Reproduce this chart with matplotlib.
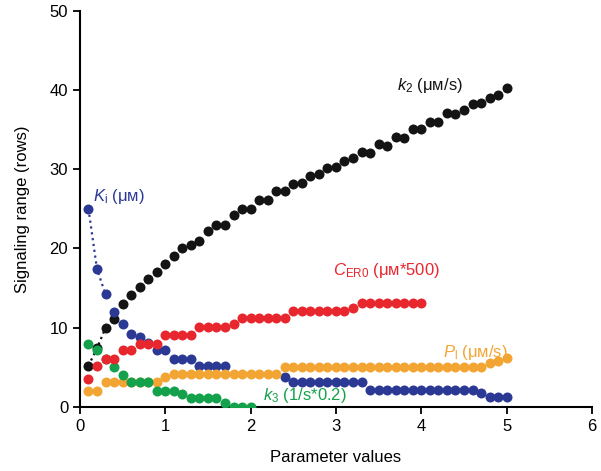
import numpy as np
import matplotlib
matplotlib.use('Agg')
import matplotlib.pyplot as plt

plt.rcParams['font.family'] = ['Liberation Sans', 'DejaVu Sans']
plt.rcParams['mathtext.fontset'] = 'custom'
plt.rcParams['mathtext.rm'] = 'Liberation Sans'
plt.rcParams['mathtext.it'] = 'Liberation Sans:italic'

# parameter values (x) shared by all series
x = np.round(np.arange(1, 51) * 0.1, 1)

k2 = [5.2, 7.4, 10.0, 11.1, 13.0, 14.1, 15.1, 16.2, 17.0, 18.1,
      19.0, 20.1, 20.5, 21.0, 22.2, 23.0, 23.0, 24.2, 25.0, 25.0,
      26.1, 26.1, 27.3, 27.3, 28.1, 28.3, 29.2, 29.4, 30.1, 30.3,
      31.1, 31.4, 32.2, 32.0, 33.2, 33.0, 34.1, 34.0, 35.1, 35.1,
      36.0, 36.0, 37.1, 37.0, 37.5, 38.3, 38.4, 39.0, 39.4, 40.2]

nan = np.nan
Ki = [25.0, 17.4, 14.2, 12.0, 10.5, 9.2, 8.8, 8.1, 7.2, 7.2,
      6.0, 6.0, 6.0, 5.2, 5.2, 5.2, 5.2, nan, nan, nan,
      nan, nan, nan, 3.8, 3.2, 3.2, 3.2, 3.2, 3.2, 3.2,
      3.2, 3.2, 3.2, 2.2, 2.2, 2.2, 2.2, 2.2, 2.2, 2.2,
      2.2, 2.2, 2.2, 2.2, 2.2, 2.2, 1.8, 1.2, 1.2, 1.2]

CER0 = [3.5, 5.2, 6.1, 6.1, 7.2, 7.2, 8.0, 8.0, 8.0, 9.1,
        9.1, 9.1, 9.1, 10.1, 10.1, 10.1, 10.1, 10.5, 11.2, 11.2,
        11.2, 11.2, 11.2, 11.2, 12.1, 12.1, 12.1, 12.1, 12.1, 12.1,
        12.1, 12.5, 13.1, 13.1, 13.1, 13.1, 13.1, 13.1, 13.1, 13.1]

Pl = [2.0, 2.0, 3.1, 3.1, 3.1, 3.1, 3.1, 3.1, 3.1, 3.8,
      4.1, 4.1, 4.1, 4.1, 4.1, 4.1, 4.1, 4.1, 4.1, 4.1,
      4.1, 4.1, 4.1, 5.1, 5.1, 5.1, 5.1, 5.1, 5.1, 5.1,
      5.1, 5.1, 5.1, 5.1, 5.1, 5.1, 5.1, 5.1, 5.1, 5.1,
      5.1, 5.1, 5.1, 5.1, 5.1, 5.1, 5.1, 5.5, 5.8, 6.2]

k3 = [8.0, 7.2, 6.1, 5.1, 4.0, 3.1, 3.1, 3.1, 2.0, 2.0,
      2.0, 1.6, 1.1, 1.1, 1.1, 1.1, 0.5, 0.0, 0.0, 0.0]

black = '#141414'
blue = '#2b3995'
red = '#e8262d'
orange = '#f2a533'
green = '#14a14b'

fig = plt.figure(figsize=(6.01, 4.71), dpi=100)
ax = fig.add_axes([0.133, 0.136, 0.852, 0.841])

ms = 7.2
# dotted joins for the first points
ax.plot(x[:3], k2[:3], ':', color=black, lw=1.6, zorder=1)
ax.plot(x[:3], Ki[:3], ':', color=blue, lw=1.6, zorder=1)

ax.plot(x, k2, 'o', ms=ms, color=black, mew=0, zorder=2)
ax.plot(x, Ki, 'o', ms=ms, color=blue, mew=0, zorder=3)
ax.plot(x[:len(Pl)], Pl, 'o', ms=ms, color=orange, mew=0, zorder=4)
ax.plot(x[:len(k3)], k3, 'o', ms=ms, color=green, mew=0, zorder=5)
ax.plot(x[:len(CER0)], CER0, 'o', ms=ms, color=red, mew=0, zorder=6)

fs = 12
ax.text(0.15, 26.6, r'$K_\mathrm{i}$ (μᴍ)', color=blue, fontsize=fs, va='center')
ax.text(3.72, 40.6, r'$k_2$ (μᴍ/s)', color=black, fontsize=fs, va='center')
ax.text(2.97, 17.2, r'$C_\mathrm{ER0}$ (μᴍ*500)', color=red, fontsize=fs, va='center')
ax.text(4.25, 6.9, r'$P_\mathrm{l}$ (μᴍ/s)', color=orange, fontsize=fs, va='center')
ax.text(2.14, 1.4, r'$k_3$ (1/s*0.2)', color=green, fontsize=fs, va='center')

ax.set_xlim(0, 6)
ax.set_ylim(0, 50)
ax.set_xticks(range(0, 7))
ax.set_yticks(range(0, 51, 10))
ax.spines['top'].set_visible(False)
ax.spines['right'].set_visible(False)
for s in ('left', 'bottom'):
    ax.spines[s].set_linewidth(1.5)
ax.tick_params(direction='out', length=5, width=1.3, labelsize=fs)
ax.set_xlabel('Parameter values', fontsize=fs, labelpad=12)
ax.set_ylabel('Signaling range (rows)', fontsize=fs, labelpad=14)

plt.savefig('out.png', dpi=100)
